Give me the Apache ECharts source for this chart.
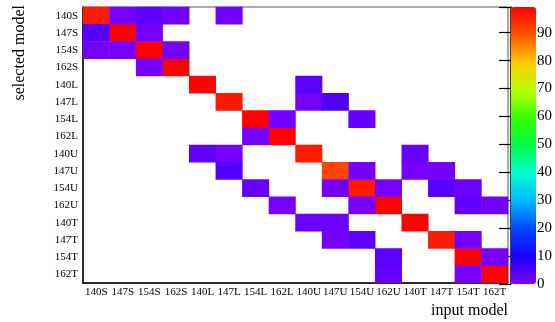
<!DOCTYPE html>
<html>
<head>
<meta charset="utf-8">
<script src="https://cdn.jsdelivr.net/npm/echarts@6/dist/echarts.min.js"></script>
<style>
  html, body { margin: 0; padding: 0; background: #fff; }
  #chart { width: 555px; height: 322px; }
</style>
</head>
<body>
<div id="chart"></div>
<script>
// model names, same order on both axes (y: top to bottom)
const models = ['140S', '147S', '154S', '162S', '140L', '147L', '154L', '162L',
  '140U', '147U', '154U', '162U', '140T', '147T', '154T', '162T']

// diagonal cells: input model == selected model
const diagonal = [96, 99, 99, 99, 99, 96.5, 99, 99, 96, 91, 96, 99, 99, 96, 99, 99]

// off-diagonal cells: [input index, selected index, value]
const offDiagonal = [
  [1, 0, 1], [2, 0, 3.5], [3, 0, 1.5], [5, 0, 1.5],
  [0, 1, 4], [2, 1, 1],
  [0, 2, 1], [1, 2, 1], [3, 2, 1],
  [2, 3, 1],
  [8, 4, 3.5],
  [8, 5, 1], [9, 5, 4.8],
  [7, 6, 1], [10, 6, 2.5],
  [6, 7, 1],
  [4, 8, 3], [5, 8, 1], [12, 8, 2.5],
  [5, 9, 4.2], [10, 9, 1], [12, 9, 1], [13, 9, 1],
  [6, 10, 2.5], [9, 10, 1], [11, 10, 1], [13, 10, 4], [14, 10, 2],
  [7, 11, 1], [10, 11, 1], [14, 11, 3], [15, 11, 1.5],
  [8, 12, 2], [9, 12, 2],
  [9, 13, 1], [10, 13, 3.5], [14, 13, 1],
  [11, 14, 3.5], [15, 14, 1],
  [11, 15, 2.5], [14, 15, 1]
]

// colour bar scale
const zMax = 99.2
const zTicks = [0, 10, 20, 30, 40, 50, 60, 70, 80, 90]

// ROOT-like rainbow palette, evenly spread over 0..zMax
const palette = ['#8000ff', '#1800ff', '#0048ff', '#00b8ff', '#00ffd0', '#00ff48',
  '#38ff00', '#b8ff00', '#ffc800', '#ff5400', '#ff0000']

const serif = '"Liberation Serif", "DejaVu Serif", serif'

const cells = diagonal.map((v, i) => [models[i], models[i], v])
  .concat(offDiagonal.map(d => [models[d[0]], models[d[1]], d[2]]))

const chart = echarts.init(document.getElementById('chart'))

chart.setOption({
  animation: false,
  grid: [
    { left: 83, top: 7, width: 425, height: 276, show: true, borderColor: '#555', borderWidth: 1, backgroundColor: 'transparent' },
    { left: 511, top: 7, width: 25, height: 277 }
  ],
  xAxis: [
    {
      type: 'category',
      gridIndex: 0,
      data: models,
      axisLine: { lineStyle: { color: '#000', width: 1.5 } },
      axisTick: { inside: true, length: 8, lineStyle: { color: '#000', width: 1.2 } },
      axisLabel: { color: '#000', fontFamily: serif, fontSize: 11, margin: 4, interval: 0 },
      splitLine: { show: false }
    },
    { type: 'value', gridIndex: 1, show: false, min: 0, max: 1 }
  ],
  yAxis: [
    {
      type: 'category',
      gridIndex: 0,
      data: models.slice().reverse(),
      axisLine: { lineStyle: { color: '#000', width: 1.5 } },
      axisTick: { inside: true, length: 12, lineStyle: { color: '#000', width: 1.2 } },
      axisLabel: { color: '#000', fontFamily: serif, fontSize: 11, margin: 5, interval: 0 },
      splitLine: { show: false }
    },
    {
      type: 'value',
      gridIndex: 1,
      position: 'right',
      min: 0,
      max: zMax,
      interval: 10,
      axisLine: { show: true, lineStyle: { color: '#000', width: 1.5 } },
      axisTick: { show: true, inside: true, length: 12, lineStyle: { color: '#000', width: 1.2 } },
      axisLabel: {
        color: '#000', fontFamily: serif, fontSize: 15, margin: 3,
        formatter: v => zTicks.includes(v) ? String(v) : ''
      },
      splitLine: { show: false }
    }
  ],
  visualMap: {
    type: 'continuous',
    seriesIndex: 0,
    min: 0,
    max: zMax,
    orient: 'vertical',
    left: 511,
    top: 7,
    padding: 0,
    itemWidth: 25,
    itemHeight: 277,
    calculable: false,
    hoverLink: false,
    showLabel: false,
    textStyle: { color: 'transparent' },
    inRange: { color: palette }
  },
  graphic: [
    {
      type: 'text',
      x: 20,
      y: 5,
      rotation: Math.PI / 2,
      style: {
        text: 'selected model',
        font: '16px ' + serif,
        fill: '#000',
        align: 'right',
        verticalAlign: 'middle'
      }
    },
    {
      type: 'text',
      x: 508,
      y: 311,
      style: {
        text: 'input model',
        font: '16px ' + serif,
        fill: '#000',
        align: 'right',
        verticalAlign: 'middle'
      }
    }
  ],
  series: [
    {
      type: 'heatmap',
      xAxisIndex: 0,
      yAxisIndex: 0,
      data: cells,
      itemStyle: { borderWidth: 0 },
      emphasis: { disabled: true }
    }
  ]
})
</script>
</body>
</html>
